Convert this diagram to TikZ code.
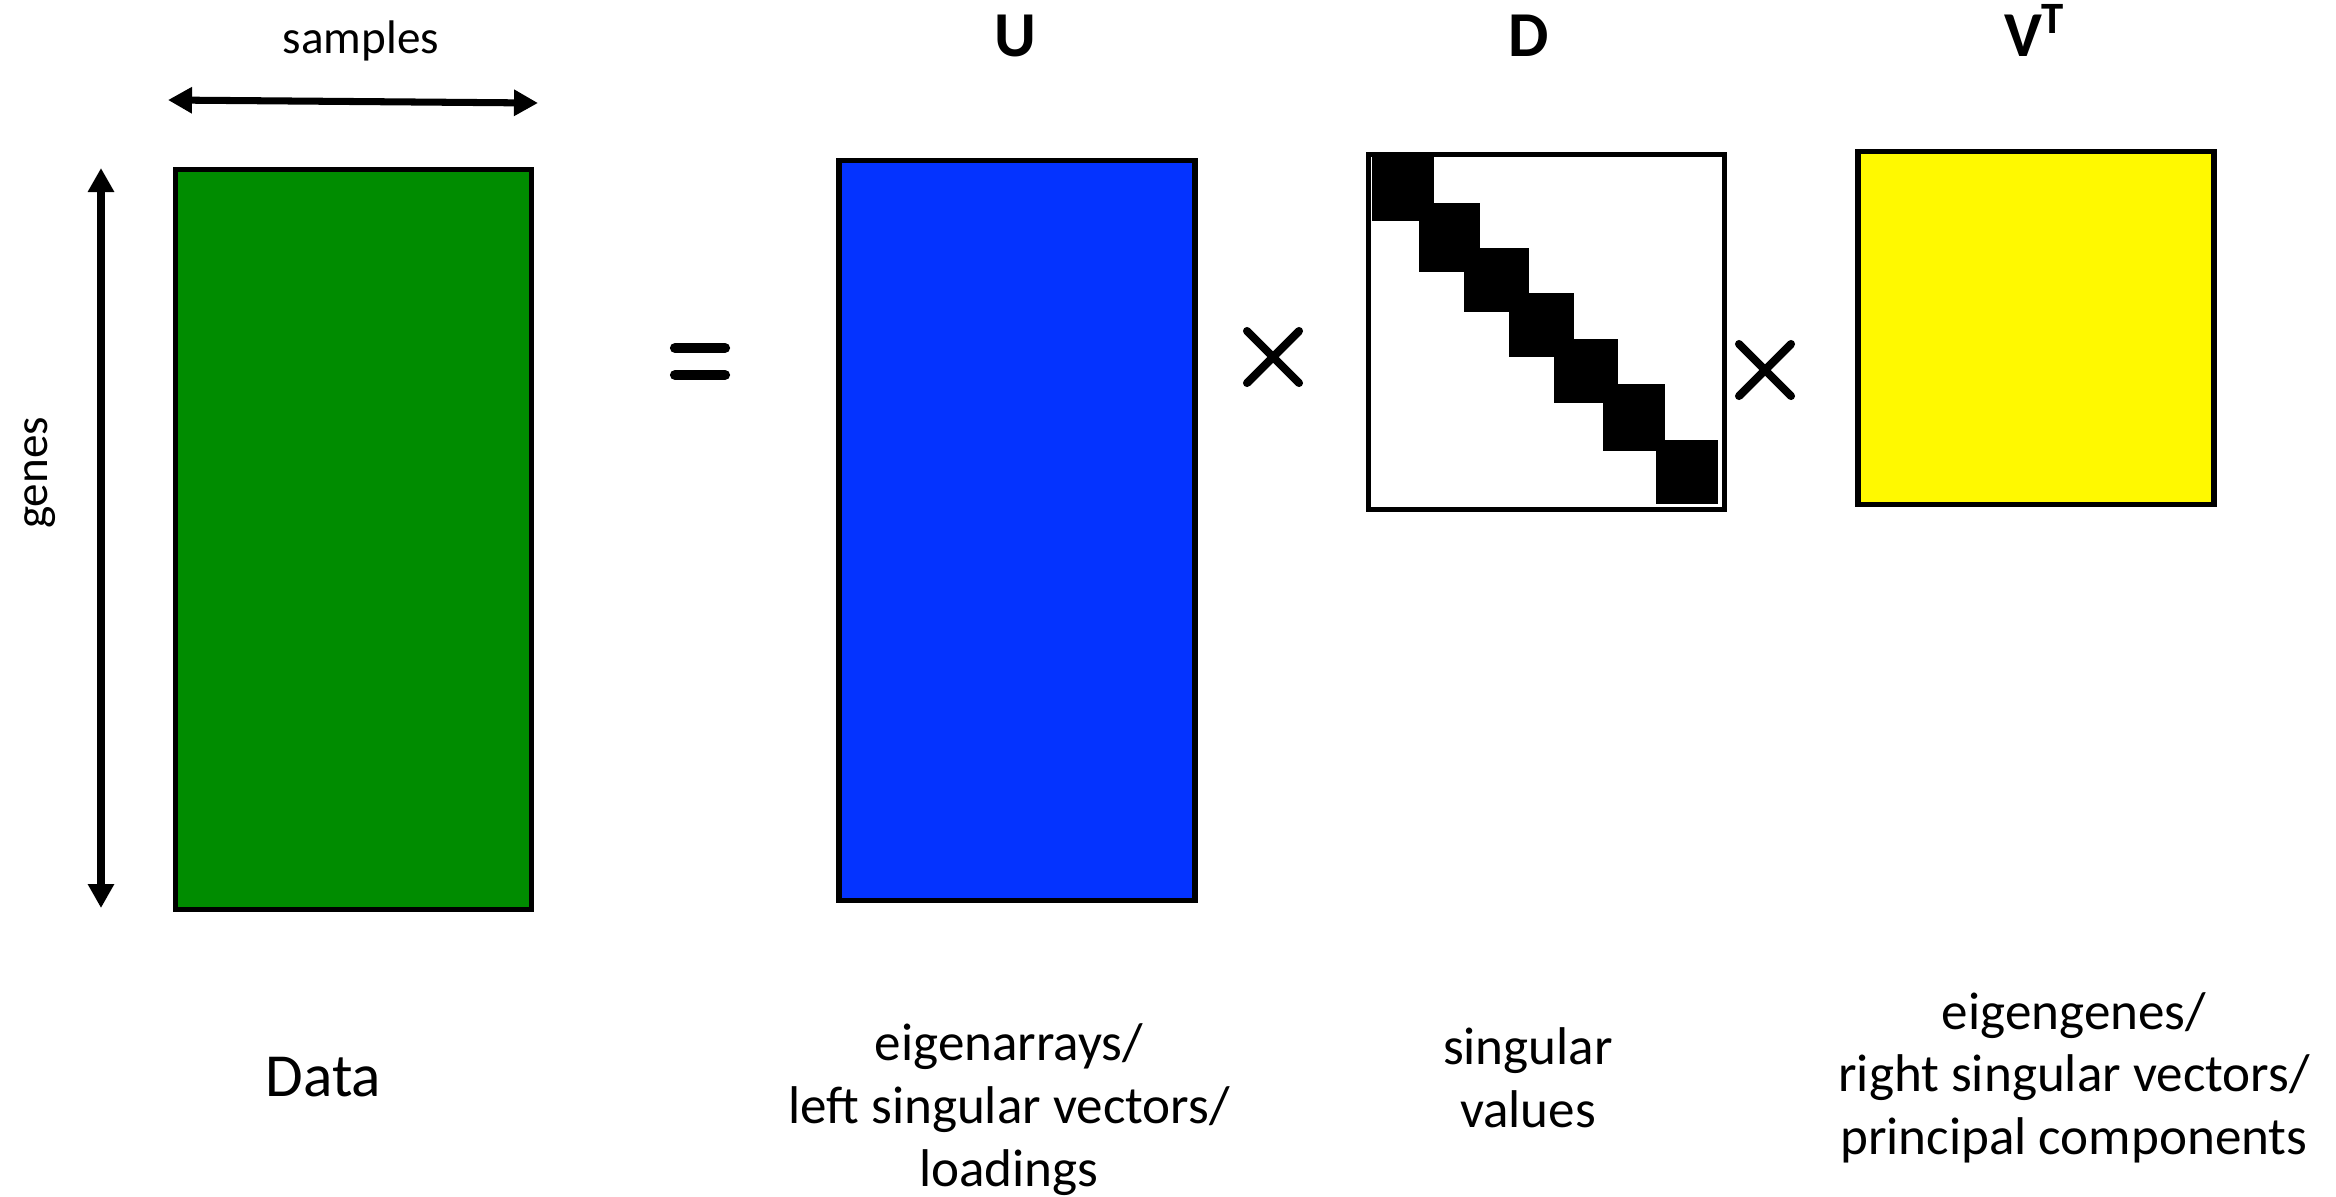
\documentclass[tikz,border=0pt]{standalone}
\usepackage{fontspec}
\setmainfont{Carlito}
\usetikzlibrary{arrows.meta}
\definecolor{clover}{HTML}{008C00}
\definecolor{blueberry}{HTML}{0433FF}
\definecolor{lemon}{HTML}{FFF900}
\begin{document}
\begin{tikzpicture}[x=0.01cm,y=-0.01cm,
  mat/.style={draw=black, line width=1.5pt, inner sep=0pt, minimum width=3.56cm},
  dimarrow/.style={line width=2pt, {Triangle[length=0.24cm,width=0.25cm]}-{Triangle[length=0.24cm,width=0.25cm]}},
  sym/.style={line width=2.3pt, line cap=round},
  eqbar/.style={line width=2.9pt, line cap=round},
  small/.style={font=\fontsize{13.4}{16}\selectfont, inner sep=0pt},
  lbl/.style={font=\fontsize{15.1}{18}\selectfont, inner sep=0pt, anchor=base},
  biglbl/.style={font=\fontsize{17.4}{21}\selectfont, inner sep=0pt, anchor=base},
  title/.style={font=\fontsize{18.2}{22}\selectfont\bfseries, inner sep=0pt, anchor=base}]
\path[use as bounding box, fill=white] (0,0) rectangle (2336,1196);

% matrices
\node[mat, fill=clover, minimum height=7.40cm] (data) at (353.5,539.5) {};
\node[mat, fill=blueberry, minimum height=7.40cm] (U) at (1017,530.5) {};
\node[mat, fill=white, minimum height=3.55cm] (D) at (1546.5,332) {};
\node[mat, fill=lemon, minimum height=3.53cm] (V) at (2036,328) {};

% diagonal of D
\fill[black] (1372,157) rectangle (1434,221);
\fill[black] (1419,203) rectangle (1480,272);
\fill[black] (1464,248) rectangle (1529,312);
\fill[black] (1509,293) rectangle (1574,357);
\fill[black] (1554,339) rectangle (1618,403);
\fill[black] (1603,384) rectangle (1665,451);
\fill[black] (1656,440) rectangle (1718,504);

% dimension arrows
\coordinate (sL) at (168,100);
\coordinate (sR) at (538,103);
\coordinate (gT) at (101,168);
\coordinate (gB) at (101,908);
\draw[dimarrow] (sL) -- (sR);
\draw[dimarrow] (gT) -- (gB);
\node[small, anchor=base] (samples) at (361,53) {samples};
\node[small, rotate=90] (genes) at (40,473) {genes};

% operators
\coordinate (eq) at (700,361.5);
\draw[eqbar] (eq) ++(-25,-13.5) -- ++(50,0);
\draw[eqbar] (eq) ++(-25,13.5) -- ++(50,0);
\coordinate (x1) at (1273,357);
\draw[sym] (x1) ++(-26,-26) -- ++(52,52);
\draw[sym] (x1) ++(-26,26) -- ++(52,-52);
\coordinate (x2) at (1765,370);
\draw[sym] (x2) ++(-26,-26) -- ++(52,52);
\draw[sym] (x2) ++(-26,26) -- ++(52,-52);

% titles
\node[title] (Ulab) at (1015,56) {U};
\node[title] (Dlab) at (1529,56) {D};
\node[title] (Vlab) at (2035,56) {V\textsuperscript{T}};

% captions
\node[biglbl] (datalab) at (323.5,1096) {Data};
\node[lbl] (u1) at (1009,1060) {eigenarrays/};
\node[lbl] (u2) at (1009,1123) {left singular vectors/};
\node[lbl] (u3) at (1009,1186) {loadings};
\node[lbl] (d1) at (1528,1064) {singular};
\node[lbl] (d2) at (1528,1127) {values};
\node[lbl] (v1) at (2074,1029) {eigengenes/};
\node[lbl] (v2) at (2074,1091) {right singular vectors/};
\node[lbl] (v3) at (2074,1154) {principal components};
\end{tikzpicture}
\end{document}
